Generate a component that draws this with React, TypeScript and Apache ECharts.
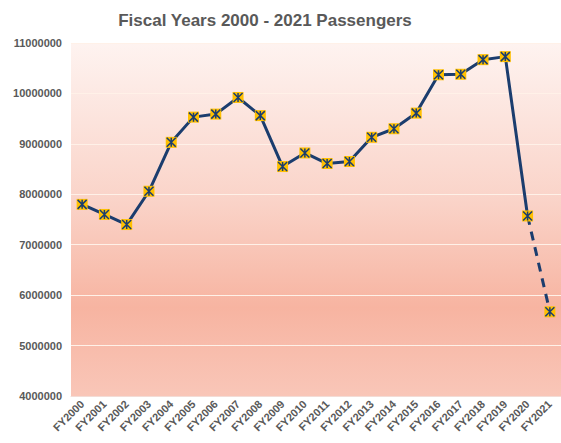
import React, { useEffect, useRef } from "react";
import * as echarts from "echarts";

const categories = ["FY2000","FY2001","FY2002","FY2003","FY2004","FY2005","FY2006","FY2007","FY2008","FY2009","FY2010","FY2011","FY2012","FY2013","FY2014","FY2015","FY2016","FY2017","FY2018","FY2019","FY2020","FY2021"];
const passengers = [7800000,7600000,7400000,8060000,9030000,9530000,9590000,9920000,9560000,8550000,8820000,8610000,8650000,9130000,9300000,9610000,10370000,10380000,10670000,10730000,7570000,5670000];
const yTicks = { min: 4000000, max: 11000000, interval: 1000000 };
const title = "Fiscal Years 2000 - 2021 Passengers";

const NAVY = "#1B3D6E";
const GOLD = "#FFC000";
const FONT = "'Liberation Sans', Arial, sans-serif";

export default function App() {
  const ref = useRef<HTMLDivElement>(null);
  useEffect(() => {
    const chart = echarts.init(ref.current!, null, { renderer: "svg" });
    const n = passengers.length;
    const solid = passengers.map((v, i) => (i < n - 1 ? v : "-"));
    const dashed = passengers.map((v, i) => (i >= n - 2 ? v : "-"));
    chart.setOption({
      animation: false,
      backgroundColor: "#ffffff",
      title: {
        text: title,
        left: 260,
        textAlign: "center",
        top: 7,
        textStyle: { fontFamily: FONT, fontWeight: "bold", fontSize: 17, color: "#595959" },
      },
      grid: {
        left: 71,
        top: 43,
        width: 495,
        bottom: 47,
        show: true,
        borderWidth: 0,
        backgroundColor: new echarts.graphic.LinearGradient(0, 0, 0, 1, [
          { offset: 0, color: "#FEF3F0" },
          { offset: 0.45, color: "#FAD3C8" },
          { offset: 0.75, color: "#F7B4A1" },
          { offset: 1, color: "#F9C6B8" },
        ]),
      },
      xAxis: {
        type: "category",
        data: categories,
        boundaryGap: true,
        axisLine: { show: true, lineStyle: { color: "#F3DCD6", width: 1 } },
        axisTick: { show: false },
        axisLabel: {
          rotate: 45,
          interval: 0,
          margin: 6,
          fontFamily: FONT,
          fontWeight: "bold",
          fontSize: 11,
          color: "#595959",
        },
      },
      yAxis: {
        type: "value",
        min: yTicks.min,
        max: yTicks.max,
        interval: yTicks.interval,
        axisLine: { show: false },
        axisTick: { show: false },
        splitLine: { show: true, lineStyle: { color: "#FFF1E8", width: 1 } },
        axisLabel: {
          margin: 9,
          formatter: (v: number) => String(v),
          fontFamily: FONT,
          fontWeight: "bold",
          fontSize: 11,
          color: "#595959",
        },
      },
      series: [
        {
          type: "line",
          data: dashed,
          symbol: "none",
          lineStyle: { color: NAVY, width: 3, type: [9, 7] },
          z: 2,
        },
        {
          type: "line",
          data: solid,
          symbol: "none",
          lineStyle: { color: NAVY, width: 3 },
          z: 3,
        },
        {
          type: "line",
          data: passengers,
          symbol: "rect",
          symbolSize: 11,
          showSymbol: true,
          lineStyle: { width: 0, opacity: 0 },
          itemStyle: { color: GOLD, borderWidth: 0 },
          z: 4,
        },
        {
          type: "line",
          data: passengers,
          symbol: "path://M0,0L10,10M10,0L0,10M5,0L5,10",
          symbolSize: 9,
          showSymbol: true,
          lineStyle: { width: 0, opacity: 0 },
          itemStyle: { color: "none", borderColor: NAVY, borderWidth: 1.5 },
          z: 5,
        },
      ],
    });
    return () => chart.dispose();
  }, []);
  return <div ref={ref} style={{ position: "absolute", left: 0, top: 0, width: 561, height: 443 }} />;
}
